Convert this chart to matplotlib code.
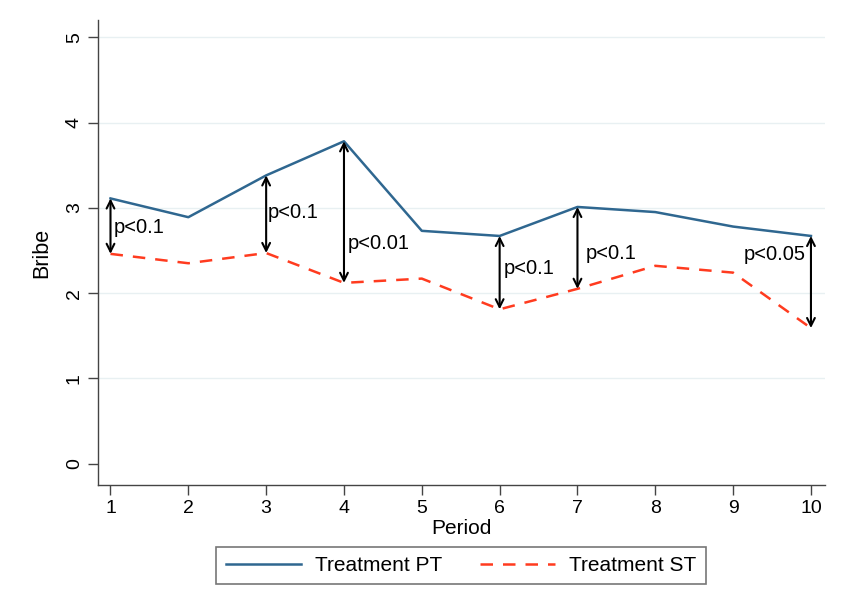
import matplotlib
matplotlib.use("Agg")
import matplotlib.pyplot as plt

plt.rcParams['font.family'] = ['Liberation Sans', 'DejaVu Sans']

periods = [1, 2, 3, 4, 5, 6, 7, 8, 9, 10]
pt_values = [3.11, 2.89, 3.38, 3.78, 2.73, 2.67, 3.01, 2.95, 2.78, 2.67]
st_values = [2.46, 2.35, 2.47, 2.12, 2.17, 1.81, 2.05, 2.32, 2.24, 1.59]
sig_periods = [1, 3, 4, 6, 7, 10]
sig_labels = ["p<0.1", "p<0.1", "p<0.01", "p<0.1", "p<0.1", "p<0.05"]
y_ticks = [0, 1, 2, 3, 4, 5]

fig = plt.figure(figsize=(8.43, 6.11), dpi=100)
ax = fig.add_axes([0.1163, 0.2062, 0.8623, 0.7608])

for yv in y_ticks[1:]:
    ax.axhline(yv, color='#e8f0f2', lw=1.0, zorder=0)

l1, = ax.plot(periods, pt_values, color='#2f6790', lw=1.8, label='Treatment PT', zorder=3)
l2, = ax.plot(periods, st_values, color='#ff3b1f', lw=1.8, ls=(0, (5, 4)), label='Treatment ST', zorder=3)

# label offsets (points) relative to arrow position
offsets = {1: (2, 0.47), 3: (1, 0.52), 4: (3, 0.28), 6: (3, 0.55), 7: (6, 0.43), 10: (-4, 0.8)}
for p, lab in zip(sig_periods, sig_labels):
    i = periods.index(p)
    top, bot = pt_values[i], st_values[i]
    ax.annotate('', xy=(p, top), xytext=(p, bot),
                arrowprops=dict(arrowstyle='<->', color='black', lw=1.5,
                                shrinkA=0, shrinkB=0, mutation_scale=14), zorder=4)
    dx, frac = offsets[p]
    ymid = bot + frac * (top - bot)
    ha = 'left' if dx > 0 else 'right'
    ax.annotate(lab, xy=(p, ymid), xytext=(dx, 0), textcoords='offset points',
                ha=ha, va='center', fontsize=14.5, color='black', zorder=5)

ax.set_xlim(0.84, 10.18)
ax.set_ylim(-0.25, 5.2)
ax.set_xticks(periods)
ax.set_yticks(y_ticks)
ax.set_yticklabels([str(v) for v in y_ticks], rotation=90, va='center')
ax.tick_params(axis='both', direction='out', length=7, width=1.0, color='#444444',
               labelsize=14, pad=4)
for s in ['top', 'right']:
    ax.spines[s].set_visible(False)
for s in ['left', 'bottom']:
    ax.spines[s].set_color('#444444')
    ax.spines[s].set_linewidth(1.0)

ax.set_xlabel('Period', fontsize=15, labelpad=1)
ax.set_ylabel('Bribe', fontsize=15.5, labelpad=10)

leg = fig.legend(handles=[l1, l2], loc='center', bbox_to_anchor=(0.547, 0.0745),
                 ncol=2, fontsize=15, frameon=True, fancybox=False,
                 edgecolor='#555555', handlelength=3.6, columnspacing=1.8,
                 borderpad=0.45, handletextpad=0.7)
leg.get_frame().set_linewidth(1.2)

fig.savefig('out.png', dpi=100)
